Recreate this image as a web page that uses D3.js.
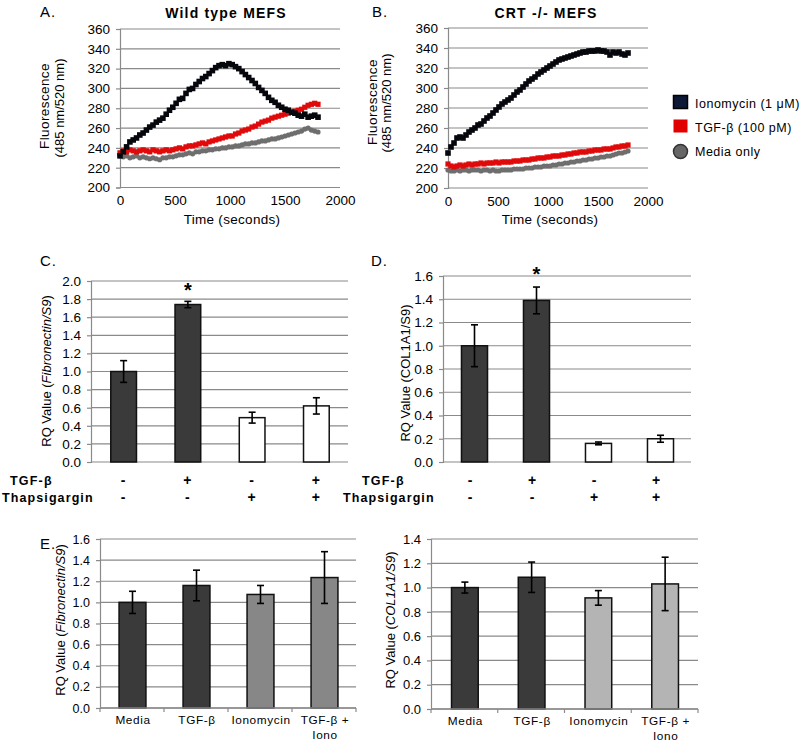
<!DOCTYPE html>
<html><head><meta charset="utf-8">
<script src="https://cdn.jsdelivr.net/npm/d3@7/dist/d3.min.js"></script>
<style>
html,body{margin:0;padding:0;background:#fff;}
svg{display:block;font-family:"Liberation Sans",Arial,sans-serif;}
</style></head>
<body><svg id="c" width="805" height="742"></svg>
<script>
// ---------- DATA ----------
const times = [0,30,60,90,120,150,180,210,240,270,300,330,360,390,420,450,480,510,540,570,600,630,660,690,720,750,780,810,840,870,900,930,960,990,1020,1050,1080,1110,1140,1170,1200,1230,1260,1290,1320,1350,1380,1410,1440,1470,1500,1530,1560,1590,1620,1650,1680,1710,1740,1770,1800];
const wtIono = [232,236,241,246,248,250,253,255,258,261,263,266,268,270,274,278,281,285,289,290,295,299,300,304,307,310,312,315,318,321,323,324,323,325,324,322,320,317,314,311,308,305,301,298,295,291,288,286,283,281,279,278,276,275,273,272,274,271,272,273,271];
const wtTgf = [235,237,236,238,237,236,237,238,237,236,238,237,236,237,238,237,238,239,240,239,241,242,242,243,244,245,244,246,247,248,249,250,251,252,252,254,255,257,258,259,261,262,264,266,267,268,270,271,272,273,274,275,276,277,278,279,281,283,284,285,284];
const wtMedia = [232,231,232,230,231,232,230,231,230,229,230,229,228,230,230,231,231,232,233,233,234,235,234,236,236,237,237,238,238,239,239,240,240,241,241,242,242,243,244,244,245,245,246,247,247,248,249,249,250,251,252,253,254,255,256,257,259,260,258,257,256];
const crtIono = [235,241,245,250,251,250,253,256,258,260,263,264,267,270,272,275,278,281,284,286,288,290,293,296,298,301,304,307,309,311,314,316,318,320,322,324,326,328,329,330,331,332,333,334,335,336,336,337,337,337,338,337,337,336,333,336,335,336,334,333,335];
const crtTgf = [224,222,221,222,223,222,223,224,223,224,224,225,224,225,225,225,226,225,226,226,226,226,227,227,227,228,228,228,229,229,230,230,230,231,231,232,232,232,233,233,234,234,235,235,236,236,236,237,237,238,238,238,239,239,239,240,241,241,242,242,243];
const crtMedia = [218,217,217,218,217,218,218,217,218,218,218,217,218,218,217,218,217,217,218,218,218,218,219,219,219,219,220,220,220,221,221,221,222,222,222,223,223,224,224,225,225,226,226,227,227,228,228,229,229,230,230,231,231,232,232,233,234,235,235,236,237];
const fluoTicks = [200,220,240,260,280,300,320,340,360];
const timeTicks = [0,500,1000,1500,2000];
const seriesNames = ["Ionomycin (1 \u03bcM)","TGF-\u03b2 (100 pM)","Media only"];

const cdGroups = ["g1","g2","g3","g4"];
const tgfSigns = ["-","+","-","+"];
const thapSigns = ["-","-","+","+"];
const cValues = [1.00,1.74,0.49,0.62];
const cErrors = [0.12,0.035,0.06,0.09];
const cTicks = [0,0.2,0.4,0.6,0.8,1.0,1.2,1.4,1.6,1.8,2.0];
const dValues = [1.00,1.39,0.16,0.20];
const dErrors = [0.18,0.115,0.012,0.03];
const dTicks = [0,0.2,0.4,0.6,0.8,1.0,1.2,1.4,1.6];

const eCategories = ["Media","TGF-\u03b2","Ionomycin","TGF-\u03b2 +|Iono"];
const eFnValues = [1.00,1.16,1.075,1.235];
const eFnErrors = [0.105,0.145,0.085,0.245];
const eFnTicks = [0,0.2,0.4,0.6,0.8,1.0,1.2,1.4,1.6];
const eColValues = [1.00,1.085,0.915,1.03];
const eColErrors = [0.045,0.125,0.06,0.22];
const eColTicks = [0,0.2,0.4,0.6,0.8,1.0,1.2,1.4];

// ---------- STYLE ----------
const FONT = '"Liberation Sans",Arial,sans-serif';
const GRID = "#8a8a8a";
const C_RED = "#e00a0a", C_GRAY = "#6e6e6e";
const DARK = "#3a3a3a";

const svg = d3.select("#c");

function txt(x,y,s,opt={}){
  const t = svg.append("text").attr("x",x).attr("y",y).text(s)
    .attr("font-size",opt.size||13).attr("fill",opt.fill||"#000")
    .attr("text-anchor",opt.anchor||"start");
  if(opt.bold) t.attr("font-weight","bold");
  if(opt.ls) t.attr("letter-spacing",opt.ls);
  if(opt.rot) t.attr("transform",`rotate(-90,${x},${y})`);
  return t;
}

function gridAndYAxis(x0,x1,y,ticks,fmt,size,labelGap){
  const g = svg.append("g");
  ticks.forEach(v=>{
    g.append("line").attr("x1",x0).attr("x2",x1).attr("y1",y(v)).attr("y2",y(v))
      .attr("stroke",GRID).attr("stroke-width",1.2);
  });
  const ax = d3.axisLeft(y).tickValues(ticks).tickFormat(fmt).tickSize(4).tickPadding(labelGap||5);
  const a = svg.append("g").attr("transform",`translate(${x0},0)`).call(ax);
  a.select(".domain").attr("stroke",GRID).attr("stroke-width",1.2);
  a.selectAll(".tick line").attr("stroke",GRID).attr("stroke-width",1.2);
  a.selectAll(".tick text").attr("font-family",FONT).attr("font-size",size).attr("fill","#000");
  return a;
}

// ---------- PANELS A & B ----------
function timePanel(xr,yr,data,title,titleX){
  const x = d3.scaleLinear().domain([0,2000]).range(xr);
  const y = d3.scaleLinear().domain([200,360]).range(yr);
  gridAndYAxis(xr[0],xr[1],y,fluoTicks,d3.format("d"),13.5,6);
  const ax = d3.axisBottom(x).tickValues(timeTicks).tickFormat(d3.format("d")).tickSize(0).tickPadding(8);
  const a = svg.append("g").attr("transform",`translate(0,${yr[0]})`).call(ax);
  a.select(".domain").remove();
  a.selectAll(".tick text").attr("font-family",FONT).attr("font-size",13.5).attr("fill","#000");
  const [iono,tgf,media] = data;
  const g = svg.append("g");
  g.selectAll(null).data(media).enter().append("circle")
    .attr("cx",(d,i)=>x(times[i])).attr("cy",d=>y(d)).attr("r",2.6).attr("fill",C_GRAY);
  g.selectAll(null).data(tgf).enter().append("rect")
    .attr("x",(d,i)=>x(times[i])-2.6).attr("y",d=>y(d)-2.6).attr("width",5.2).attr("height",5.2).attr("fill",C_RED);
  g.selectAll(null).data(iono).enter().append("rect")
    .attr("x",(d,i)=>x(times[i])-2.8).attr("y",d=>y(d)-2.8).attr("width",5.6).attr("height",5.6).attr("fill","#05070d");
  txt(titleX,18,title,{bold:true,size:14,anchor:"middle",ls:1.2});
  txt((xr[0]+xr[1])/2+2,224,"Time (seconds)",{size:13.5,anchor:"middle",ls:0.3});
  return {x,y};
}
timePanel([120,340],[187.5,29],[wtIono,wtTgf,wtMedia],"Wild type MEFS",226);
txt(49,106,"Fluorescence",{size:13.5,anchor:"middle",rot:true,ls:0.4});
txt(64,108,"(485 nm/520 nm)",{size:13,anchor:"middle",rot:true});
txt(40,17,"A.",{size:15,ls:1});
timePanel([448,648],[188,28],[crtIono,crtTgf,crtMedia],"CRT -/- MEFS",546);
txt(377,102,"Fluorescence",{size:13.5,anchor:"middle",rot:true,ls:0.4});
txt(391,103,"(485 nm/520 nm)",{size:13,anchor:"middle",rot:true});
txt(372,17,"B.",{size:15,ls:1});

// legend
const lg = svg.append("g");
lg.append("rect").attr("x",673.5).attr("y",95.5).attr("width",14).attr("height",13).attr("fill","#0c1836").attr("stroke","#000").attr("stroke-width",1.5);
lg.append("rect").attr("x",673.5).attr("y",119.5).attr("width",14).attr("height",13).attr("fill","#e00000");
lg.append("circle").attr("cx",680.5).attr("cy",151.5).attr("r",7).attr("fill","#666").attr("stroke","#333").attr("stroke-width",1.5);
seriesNames.forEach((s,i)=>txt(695,[108,132,156][i],s,{size:12.5,ls:0.5}));

// ---------- BAR PANELS ----------
function barPanel(opts){
  const x = d3.scaleBand().domain(opts.cats).range(opts.xr).paddingInner(opts.pi).paddingOuter(opts.pi/2);
  const y = d3.scaleLinear().domain([0,opts.max]).range(opts.yr);
  gridAndYAxis(opts.xr[0],opts.xr[1],y,opts.ticks,d3.format(".1f"),opts.tickSize,6);
  const g = svg.append("g");
  g.selectAll(null).data(opts.values).enter().append("rect")
    .attr("x",(d,i)=>x(opts.cats[i])+0.5).attr("y",d=>y(d))
    .attr("width",x.bandwidth()).attr("height",d=>y(0)-y(d))
    .attr("fill",(d,i)=>opts.colors[i]).attr("stroke","#111").attr("stroke-width",1.5);
  opts.values.forEach((v,i)=>{
    const cx = x(opts.cats[i])+x.bandwidth()/2+0.5;
    const e = opts.errors[i];
    const y1 = y(v+e), y2 = y(v-e);
    g.append("line").attr("x1",cx).attr("x2",cx).attr("y1",y1).attr("y2",y2).attr("stroke","#000").attr("stroke-width",1.6);
    [y1,y2].forEach(yy=>g.append("line").attr("x1",cx-3.5).attr("x2",cx+3.5).attr("y1",yy).attr("y2",yy).attr("stroke","#000").attr("stroke-width",1.6));
  });
  return {x,y};
}

// C
const C = barPanel({cats:cdGroups,xr:[91,348],yr:[462,281],max:2.0,pi:0.6,ticks:cTicks,tickSize:13.5,
  values:cValues,errors:cErrors,colors:[DARK,DARK,"#fff","#fff"]});
txt(40,266,"C.",{size:15,ls:1});
txt(C.x("g2")+C.x.bandwidth()/2+0.5,297,"*",{size:20,bold:true,anchor:"middle"});
{
  const t = txt(51,371,"RQ Value (",{size:13,anchor:"middle",rot:true});
  t.append("tspan").attr("font-style","italic").text("Fibronectin/S9");
  t.append("tspan").text(")");
}
txt(10,485,"TGF-\u03b2",{size:12.5,bold:true,ls:1.2});
txt(2,502,"Thapsigargin",{size:12.5,bold:true,ls:1.1});
cdGroups.forEach((c,i)=>{
  const cx = C.x(c)+C.x.bandwidth()/2;
  txt(cx,485,tgfSigns[i],{size:14,bold:true,anchor:"middle"});
  txt(cx,502,thapSigns[i],{size:14,bold:true,anchor:"middle"});
});

// D
const D = barPanel({cats:cdGroups,xr:[443,691],yr:[462,276],max:1.6,pi:0.58,ticks:dTicks,tickSize:13.5,
  values:dValues,errors:dErrors,colors:[DARK,DARK,"#fff","#fff"]});
txt(371,266,"D.",{size:15,ls:1});
txt(D.x("g2")+D.x.bandwidth()/2+0.5,281,"*",{size:20,bold:true,anchor:"middle"});
txt(410,373,"RQ Value (COL1A1/S9)",{size:13,anchor:"middle",rot:true});
txt(362,485,"TGF-\u03b2",{size:12.5,bold:true,ls:1.2});
txt(343,502,"Thapsigargin",{size:12.5,bold:true,ls:1.1});
cdGroups.forEach((c,i)=>{
  const cx = D.x(c)+D.x.bandwidth()/2 - 4;
  txt(cx,485,tgfSigns[i],{size:14,bold:true,anchor:"middle"});
  txt(cx,502,thapSigns[i],{size:14,bold:true,anchor:"middle"});
});

// E
function eAxis(P,xr,base){
  const g = svg.append("g");
  g.append("line").attr("x1",xr[0]).attr("x2",xr[1]).attr("y1",base).attr("y2",base).attr("stroke",GRID).attr("stroke-width",1.4);
  const step = P.x.step();
  const start = P.x(eCategories[0]) - step*P.x.paddingOuter();
  for(let i=0;i<=eCategories.length;i++){
    const xx = start+i*step;
    g.append("line").attr("x1",xx).attr("x2",xx).attr("y1",base).attr("y2",base+4).attr("stroke",GRID).attr("stroke-width",1.2);
  }
  eCategories.forEach(c=>{
    const cx = P.x(c)+P.x.bandwidth()/2;
    const lines = c.split("|");
    lines.forEach((l,j)=>txt(cx+1,base+16+j*14.5,l,{size:11.8,anchor:"middle",ls:0.6}));
  });
}
const E1 = barPanel({cats:eCategories,xr:[100,356],yr:[708,539],max:1.6,pi:0.58,ticks:eFnTicks,tickSize:12.5,
  values:eFnValues,errors:eFnErrors,colors:[DARK,DARK,"#878787","#878787"]});
eAxis(E1,[100,356],708);
txt(40,549,"E.",{size:15,ls:1});
{
  const t = txt(65,620,"RQ Value (",{size:13,anchor:"middle",rot:true});
  t.append("tspan").attr("font-style","italic").text("Fibronectin/S9");
  t.append("tspan").text(")");
}
const E2 = barPanel({cats:eCategories,xr:[431,698],yr:[709,539],max:1.4,pi:0.6,ticks:eColTicks,tickSize:13,
  values:eColValues,errors:eColErrors,colors:[DARK,DARK,"#b4b4b4","#b4b4b4"]});
eAxis(E2,[431,698],709);
{
  const t = txt(395,620,"RQ Value (",{size:13,anchor:"middle",rot:true});
  t.append("tspan").attr("font-style","italic").text("COL1A1/S9");
  t.append("tspan").text(")");
}
</script></body></html>
